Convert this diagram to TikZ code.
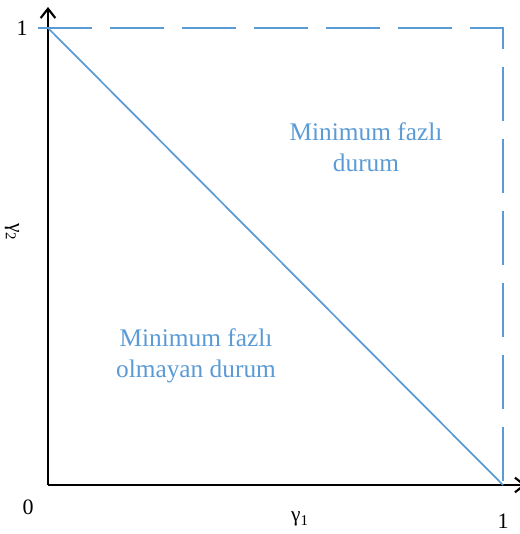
\documentclass[tikz,border=0pt]{standalone}
\usepackage{fontspec}
\setmainfont{Liberation Serif}
\usetikzlibrary{arrows.meta}
\definecolor{regionblue}{RGB}{91,155,213}

\begin{document}
\begin{tikzpicture}[x=0.75pt, y=-0.75pt,
      axis/.style={line width=1.6pt, black},
      bound/.style={line width=1.3pt, regionblue},
      region/.style={text=regionblue, align=center, font=\fontsize{19}{23.3}\selectfont},
      tick/.style={font=\fontsize{16.5}{18}\selectfont, inner sep=0pt}]
    \useasboundingbox (0,0) rectangle (519,534);
    % corners of the unit square
    \coordinate (O)  at (48,485);
    \coordinate (Y1) at (48,28);
    \coordinate (X1) at (503,485);
    \coordinate (C)  at (503,28);
    \coordinate (ytop) at (48,7);
    \coordinate (xend) at (526,485);
    \coordinate (dstart) at (38,28);
    \coordinate (dend) at (503,497);
    % axes
    \draw[axis, -{Straight Barb[length=7pt, width=11pt]}] (O) -- (ytop);
    \draw[axis, -{Straight Barb[length=7pt, width=11pt]}] (O) -- (xend);
    % boundaries
    \draw[bound, dash pattern=on 40.5pt off 13.5pt] (dstart) -- (C) -- (dend);
    \draw[bound] (Y1) -- (X1);
    % regions
    \node[region] (upper) at (366,147) {Minimum fazlı\\durum};
    \node[region] (lower) at (196,356) {Minimum fazlı\\olmayan durum};
    % ticks and axis names
    \node[tick] (one y) at (22,28) {1};
    \node[tick] (zero) at (28,507) {0};
    \node[tick] (one x) at (503,521) {1};
    \node[tick, font=\fontsize{16}{18}\selectfont] (g1) at (300,519) {γ\textsubscript{1}};
    \node[tick, font=\fontsize{16}{18}\selectfont, rotate=-90] (g2) at (12,232) {γ\textsubscript{2}};
  \end{tikzpicture}
\end{document}
